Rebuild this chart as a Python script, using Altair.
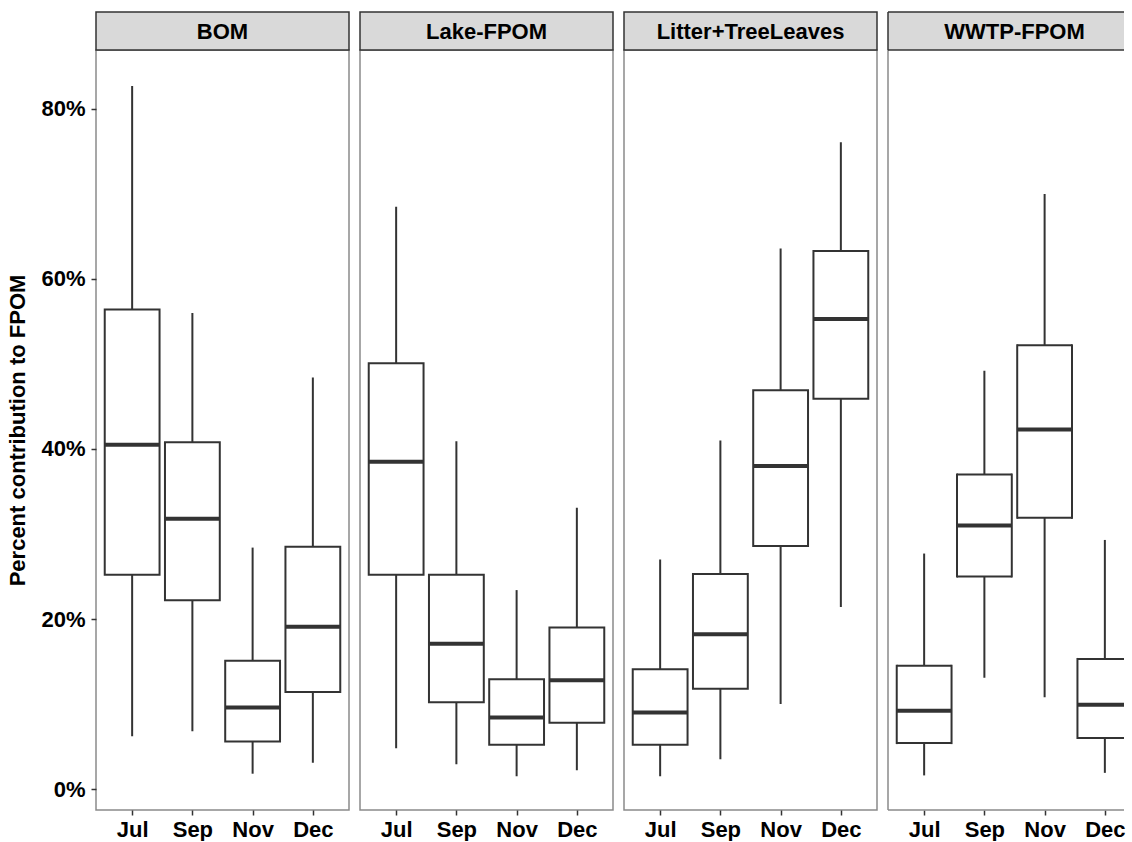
import json
import altair as alt
import pandas as pd

# Sources of FPOM (panels) and sampling months (x categories)
sources = ["BOM", "Lake-FPOM", "Litter+TreeLeaves", "WWTP-FPOM"]
months = ["Jul", "Sep", "Nov", "Dec"]

# Box-plot summaries per source, in month order (percent contribution)
lower = {
    "BOM": [6.2, 6.8, 1.8, 3.1],
    "Lake-FPOM": [4.8, 2.9, 1.5, 2.2],
    "Litter+TreeLeaves": [1.5, 3.5, 10.0, 21.4],
    "WWTP-FPOM": [1.6, 13.1, 10.8, 1.9],
}
q1 = {
    "BOM": [25.2, 22.2, 5.6, 11.4],
    "Lake-FPOM": [25.2, 10.2, 5.2, 7.8],
    "Litter+TreeLeaves": [5.2, 11.8, 28.6, 45.9],
    "WWTP-FPOM": [5.4, 25.0, 31.9, 6.0],
}
median = {
    "BOM": [40.5, 31.8, 9.6, 19.1],
    "Lake-FPOM": [38.5, 17.1, 8.4, 12.8],
    "Litter+TreeLeaves": [9.0, 18.2, 38.0, 55.3],
    "WWTP-FPOM": [9.2, 31.0, 42.3, 9.9],
}
q3 = {
    "BOM": [56.4, 40.8, 15.1, 28.5],
    "Lake-FPOM": [50.1, 25.2, 12.9, 19.0],
    "Litter+TreeLeaves": [14.1, 25.3, 46.9, 63.3],
    "WWTP-FPOM": [14.5, 37.0, 52.2, 15.3],
}
upper = {
    "BOM": [82.7, 56.0, 28.4, 48.4],
    "Lake-FPOM": [68.5, 40.9, 23.4, 33.1],
    "Litter+TreeLeaves": [27.0, 41.0, 63.6, 76.1],
    "WWTP-FPOM": [27.7, 49.2, 70.0, 29.3],
}

FONT = "Liberation Sans"
INK = "#333333"
BORDER = "#8a8a8a"
STRIP_FILL = "#d9d9d9"
PANEL_W = 253      # full panel width
LAST_W = 236       # the right-most panel runs off the page edge
PANEL_H = 760
STRIP_H = 38
HALF_BOX = 0.455   # half box width, in category units
X_LO, X_HI = 0.4, 4.6

y_scale = alt.Scale(domain=[-2.47, 86.94], nice=False, zero=False)
month_label = "%s[datum.value - 1]" % json.dumps(months)


def panel_frame(source):
    rows = []
    for i, m in enumerate(months):
        rows.append({
            "source": source, "month": m, "idx": i + 1,
            "lo": lower[source][i], "q1": q1[source][i],
            "med": median[source][i], "q3": q3[source][i],
            "hi": upper[source][i],
        })
    return pd.DataFrame(rows)


def make_panel(source, first, last):
    df = panel_frame(source)
    view_w = LAST_W if last else PANEL_W
    # the right-most panel shows only the part of the x range that fits
    x_max = X_LO + (X_HI - X_LO) * view_w / PANEL_W
    x_scale = alt.Scale(domain=[X_LO, x_max], nice=False, zero=False,
                        clamp=True)

    x_axis = alt.Axis(values=[1, 2, 3, 4], labelExpr=month_label,
                      labelAngle=0, labelFont=FONT, labelFontSize=22,
                      labelFontWeight="bold", labelColor="black",
                      labelPadding=4, labelFlush=False, labelOverlap=False,
                      tickColor=INK, tickSize=5, tickWidth=1.5,
                      domain=False, grid=False)

    if first:
        y_axis = alt.Axis(values=[0, 20, 40, 60, 80],
                          labelExpr="datum.value + '%'",
                          labelFont=FONT, labelFontSize=22,
                          labelFontWeight="bold", labelColor="black",
                          labelPadding=6, tickColor=INK, tickSize=5,
                          tickWidth=1.5, domain=False, grid=False,
                          titleFont=FONT, titleFontSize=22,
                          titleFontWeight="bold", titleColor="black",
                          titlePadding=11)
        y_title = "Percent contribution to FPOM"
    else:
        y_axis = None
        y_title = None

    base = alt.Chart(df).transform_calculate(
        x_lo="datum.idx - %s" % HALF_BOX,
        x_hi="datum.idx + %s" % HALF_BOX,
    )

    whiskers = base.mark_rule(color=INK, strokeWidth=2).encode(
        x=alt.X("idx:Q", scale=x_scale, title=None, axis=x_axis),
        y=alt.Y("lo:Q", scale=y_scale, title=y_title, axis=y_axis),
        y2="hi:Q",
    )

    layers = [whiskers]
    if last:
        # box outlines drawn side by side so a box cut by the edge stays open
        layers += [
            base.mark_bar(fill="white").encode(
                x="x_lo:Q", x2="x_hi:Q", y="q1:Q", y2="q3:Q"),
            base.mark_rule(color=INK, strokeWidth=2).encode(
                x="x_lo:Q", x2="x_hi:Q", y="q1:Q"),
            base.mark_rule(color=INK, strokeWidth=2).encode(
                x="x_lo:Q", x2="x_hi:Q", y="q3:Q"),
            base.mark_rule(color=INK, strokeWidth=2, strokeCap="square").encode(
                x="x_lo:Q", y="q1:Q", y2="q3:Q"),
            base.transform_filter("datum.x_hi < %s" % x_max).mark_rule(
                color=INK, strokeWidth=2, strokeCap="square").encode(
                x="x_hi:Q", y="q1:Q", y2="q3:Q"),
        ]
    else:
        layers.append(
            base.mark_bar(fill="white", stroke=INK, strokeWidth=2).encode(
                x="x_lo:Q", x2="x_hi:Q", y="q1:Q", y2="q3:Q"))

    layers.append(
        base.mark_rule(color=INK, strokeWidth=4).encode(
            x="x_lo:Q", x2="x_hi:Q", y="med:Q"))

    one = base.transform_filter(alt.datum.month == "Jul")
    if last:
        # strip and panel outline drawn edge by edge, open on the cut side
        layers += [
            one.mark_rect(fill=STRIP_FILL).encode(
                x=alt.value(0), x2=alt.value(view_w),
                y=alt.value(-STRIP_H), y2=alt.value(0)),
            one.mark_rule(color=BORDER, strokeWidth=1.5).encode(
                x=alt.value(0), y=alt.value(0), y2=alt.value(PANEL_H)),
            one.mark_rule(color=BORDER, strokeWidth=1.5).encode(
                x=alt.value(0), x2=alt.value(view_w), y=alt.value(PANEL_H)),
            one.mark_rule(color=INK, strokeWidth=1.5).encode(
                x=alt.value(0), x2=alt.value(view_w), y=alt.value(-STRIP_H)),
            one.mark_rule(color=INK, strokeWidth=1.5).encode(
                x=alt.value(0), x2=alt.value(view_w), y=alt.value(0)),
            one.mark_rule(color=INK, strokeWidth=1.5).encode(
                x=alt.value(0), y=alt.value(-STRIP_H), y2=alt.value(0)),
        ]
    else:
        layers.append(
            one.mark_rect(fill=STRIP_FILL, stroke=INK, strokeWidth=1.5).encode(
                x=alt.value(0), x2=alt.value(PANEL_W),
                y=alt.value(-STRIP_H), y2=alt.value(0)))

    layers.append(
        one.mark_text(font=FONT, fontSize=22, fontWeight="bold",
                      color="black", baseline="alphabetic").encode(
            x=alt.value(PANEL_W / 2), y=alt.value(-11.5),
            text="source:N"))

    view = (alt.ViewBackground(stroke=None) if last
            else alt.ViewBackground(stroke=BORDER, strokeWidth=1.5))
    return alt.layer(*layers).properties(
        width=view_w, height=PANEL_H, view=view)


panels = [
    make_panel(s, first=(i == 0), last=(i == len(sources) - 1))
    for i, s in enumerate(sources)
]

chart = alt.hconcat(*panels, spacing=11, bounds="flush").resolve_scale(
    x="independent", y="shared"
).properties(
    padding={"left": 6, "top": 10, "right": 0, "bottom": 0},
    background="white",
)

chart.save("out.html", embed_options={"renderer": "svg", "actions": False})
